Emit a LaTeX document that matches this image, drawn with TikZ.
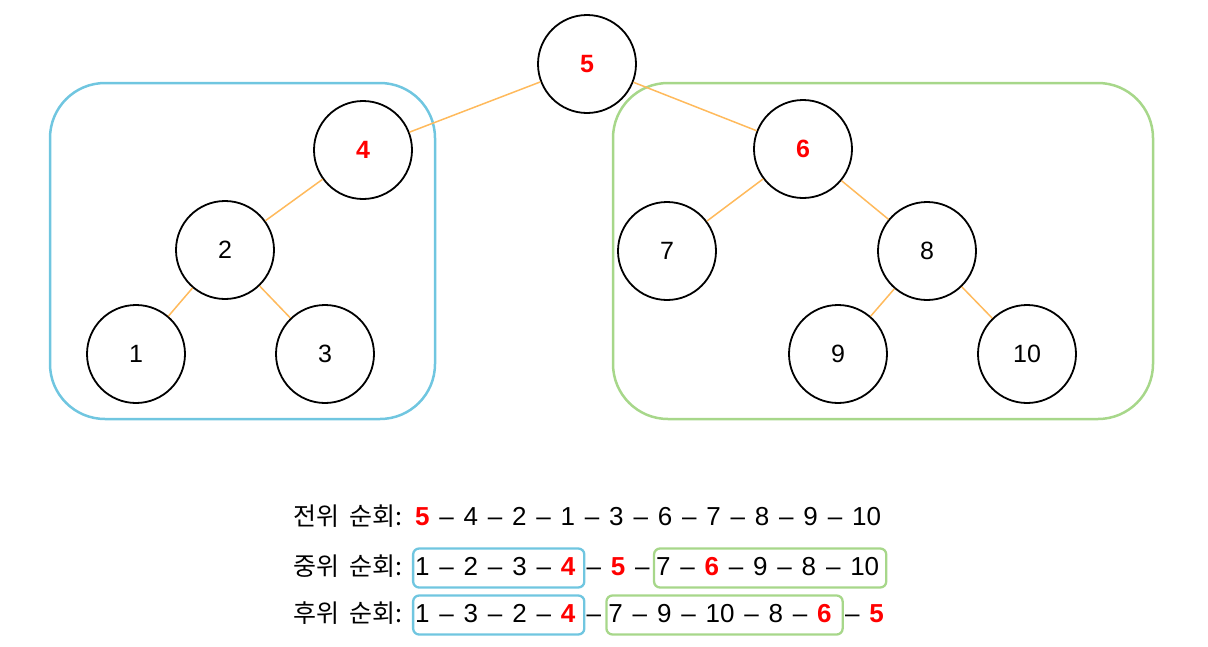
\documentclass[tikz,border=0pt]{standalone}
\usepackage{fontspec}
\setmainfont{Liberation Sans}[WordSpace=1.36]
\newfontfamily\krfont{Noto Sans CJK KR}[WordSpace=1.9]
\usetikzlibrary{positioning}
\definecolor{edgeorange}{HTML}{FFBA5C}
\definecolor{boxblue}{HTML}{70C6E0}
\definecolor{boxgreen}{HTML}{A7D78A}
\newcommand{\hl}[1]{\textcolor{red}{\textbf{#1}}}
\newcommand{\lbl}[1]{{\krfont\fontsize{25}{29}\selectfont #1}}

\begin{document}
\begin{tikzpicture}[x=1pt, y=-1pt,
    vert/.style={circle, draw, line width=1.8pt, minimum size=98pt, inner sep=0pt, font=\fontsize{25}{29}\selectfont},
    link/.style={edgeorange, line width=1.5pt},
    group/.style={rounded corners=55pt, line width=2.5pt},
    seq/.style={inner xsep=0pt, inner ysep=0pt, text height=19pt, text depth=5pt, font=\fontsize{26}{30}\selectfont},
    seqbox/.style={seq, draw, rounded corners=6pt, line width=2.3pt, inner ysep=7.5pt}]
    \useasboundingbox (0,0) rectangle (1208,646);

    % Sottoalberi
    \draw[group, boxblue] (50,83) rectangle (435,419);
    \draw[group, boxgreen] (613,83) rectangle (1153,419);

    % Nodi
    \node[vert] (n5) at (587,64) {\hl{5}};
    \node[vert] (n4) at (363,150) {\hl{4}};
    \node[vert] (n2) at (225,250) {2};
    \node[vert] (n1) at (136,354) {1};
    \node[vert] (n3) at (325,354) {3};
    \node[vert] (n6) at (803,149) {\hl{6}};
    \node[vert] (n7) at (667,251) {7};
    \node[vert] (n8) at (927,251) {8};
    \node[vert] (n9) at (838,354) {9};
    \node[vert] (n10) at (1027,354) {10};

    % Archi
    \foreach \a/\b in {n5/n4, n5/n6, n4/n2, n2/n1, n2/n3, n6/n7, n6/n8, n8/n9, n8/n10}{
        \draw[link] (\a) -- (\b);
    }

    % Visite
    \node[seq, anchor=west] (pre) at (293,518) {\lbl{전위 순회:} \hl{5} – 4 – 2 – 1 – 3 – 6 – 7 – 8 – 9 – 10};

    \node[seq, anchor=west] (inlabel) at (293,568) {\lbl{중위 순회:}};
    \node[seqbox, draw=boxblue, right=9pt of inlabel] (inleft) {\kern2pt 1 – 2 – 3 – \hl{4}\kern9pt};
    \node[seq, right=1pt of inleft] (inmid) {– \hl{5} –};
    \node[seqbox, draw=boxgreen, right=3pt of inmid] (inright) {\kern2pt 7 – \hl{6} – 9 – 8 – 10\kern7pt};

    \node[seq, anchor=west] (postlabel) at (293,615) {\lbl{후위 순회:}};
    \node[seqbox, draw=boxblue, right=9pt of postlabel] (postleft) {\kern2pt 1 – 3 – 2 – \hl{4}\kern9pt};
    \node[seq, right=1pt of postleft] (postmid) {–};
    \node[seqbox, draw=boxgreen, right=4pt of postmid] (postright) {\kern2pt 7 – 9 – 10 – 8 – \hl{6}\kern11pt};
    \node[seq, right=1pt of postright] (postend) {– \hl{5}};
\end{tikzpicture}
\end{document}
